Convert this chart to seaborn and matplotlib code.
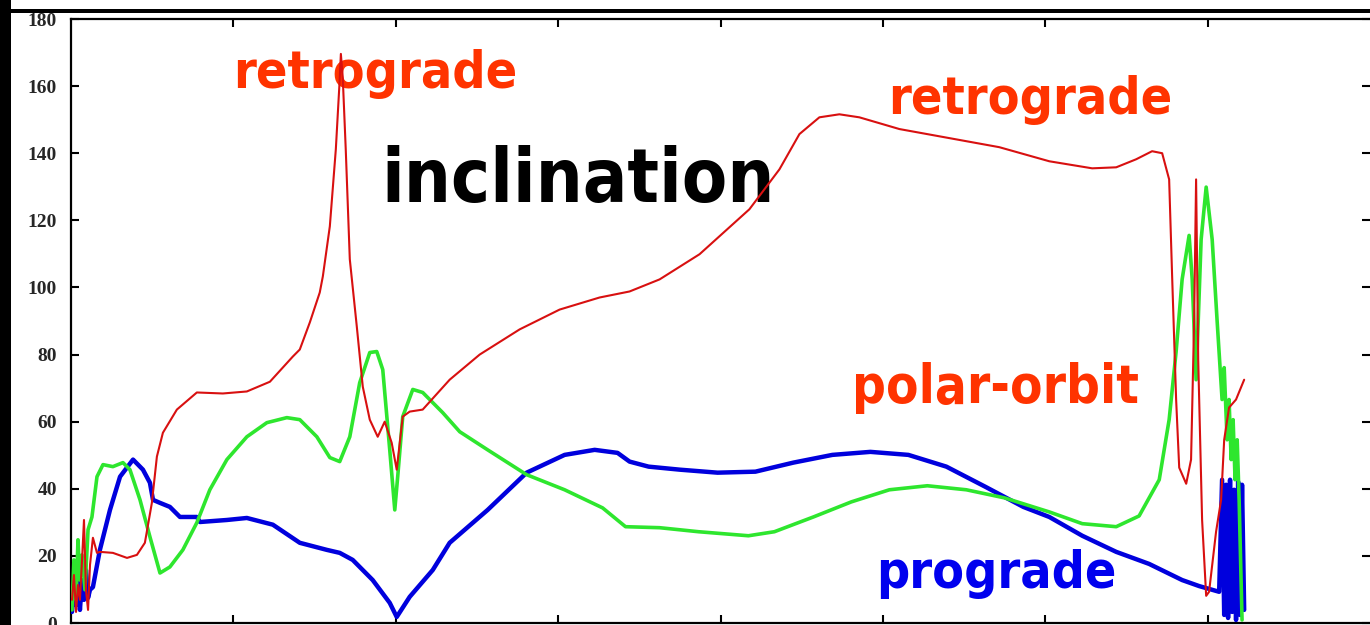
import numpy as np
import pandas as pd
import matplotlib
matplotlib.use("Agg")
import matplotlib.pyplot as plt
from matplotlib.patches import Rectangle
import seaborn as sns

# ---------------- data ----------------
retro_x = [0.006, 0.018, 0.031, 0.043, 0.055, 0.068, 0.080, 0.092, 0.105, 0.117, 0.135, 0.160, 0.178,
           0.258, 0.345, 0.406, 0.455, 0.498, 0.529, 0.566, 0.652, 0.775, 0.935, 1.083, 1.225, 1.366,
           1.409, 1.471, 1.532, 1.551, 1.594, 1.631, 1.655, 1.662, 1.674, 1.692, 1.717, 1.760, 1.797,
           1.840, 1.889, 1.932, 1.975, 2.006, 2.043, 2.086, 2.166, 2.332, 2.517, 2.763, 3.009, 3.255,
           3.440, 3.625, 3.871, 4.178, 4.363, 4.486, 4.609, 4.732, 4.855, 5.102, 5.717, 6.025, 6.289,
           6.437, 6.560, 6.658, 6.720, 6.763, 6.782, 6.806, 6.825, 6.868, 6.898, 6.917, 6.929, 6.942,
           6.966, 6.991, 7.009, 7.052, 7.083, 7.102, 7.132, 7.175, 7.225]
retro_y = [6.9, 14.3, 3.3, 11.3, 6.9, 18.8, 30.7, 9.9, 3.9, 17.3, 25.4, 20.9, 21.2,
           20.9, 19.4, 20.3, 23.9, 35.8, 49.6, 56.7, 63.6, 68.7, 68.4, 69.0, 71.9, 79.4,
           81.5, 89.6, 98.5, 103.3, 118.2, 141.2, 162.1, 169.6, 162.1, 141.2, 108.4, 88.4, 70.4,
           60.6, 55.5, 60.0, 53.7, 45.7, 61.5, 63.0, 63.6, 72.5, 80.0, 87.5, 93.4, 97.0,
           98.8, 102.4, 109.9, 123.3, 135.2, 145.7, 150.7, 151.6, 150.7, 147.2, 141.8, 137.6, 135.5,
           135.8, 138.2, 140.6, 140.0, 132.2, 102.4, 66.6, 46.3, 41.5, 48.7, 90.4, 132.2, 78.5,
           30.7, 8.1, 9.3, 27.2, 36.7, 54.6, 64.2, 66.6, 72.5]

polar_x = [0.006, 0.018, 0.031, 0.043, 0.055, 0.068, 0.086, 0.105, 0.129, 0.160, 0.197, 0.258, 0.320,
           0.363, 0.425, 0.486, 0.548, 0.609, 0.689, 0.775, 0.855, 0.960, 1.083, 1.206, 1.329, 1.409,
           1.514, 1.594, 1.655, 1.717, 1.778, 1.840, 1.883, 1.920, 1.963, 1.994, 2.012, 2.043, 2.105,
           2.166, 2.289, 2.394, 2.566, 2.806, 3.040, 3.274, 3.415, 3.625, 3.865, 4.172, 4.332, 4.572,
           4.806, 5.040, 5.274, 5.514, 5.748, 6.025, 6.228, 6.437, 6.578, 6.702, 6.763, 6.806, 6.843,
           6.886, 6.905, 6.929, 6.960, 6.991, 7.028, 7.058, 7.089, 7.102, 7.120, 7.132, 7.145, 7.157,
           7.169, 7.182, 7.194, 7.212]
polar_y = [3.9, 18.8, 6.9, 24.8, 12.8, 20.3, 9.9, 27.8, 31.6, 43.6, 47.2, 46.6, 47.8,
           45.7, 36.7, 25.7, 14.9, 16.7, 21.8, 29.9, 39.7, 48.7, 55.5, 59.7, 61.2, 60.6,
           55.5, 49.3, 48.1, 55.5, 71.6, 80.6, 80.9, 75.5, 51.6, 33.7, 43.6, 61.5, 69.6,
           68.7, 62.7, 57.0, 51.6, 44.2, 39.7, 34.3, 28.7, 28.4, 27.2, 26.0, 27.2, 31.6,
           36.1, 39.7, 40.9, 39.7, 37.3, 33.1, 29.6, 28.7, 31.9, 42.7, 60.6, 80.9, 102.4,
           115.5, 102.4, 72.5, 114.3, 129.9, 114.3, 90.4, 66.6, 76.1, 54.6, 66.6, 48.7, 60.6,
           42.7, 54.6, 36.7, 0.9]

pro_x = [0.006, 0.018, 0.031, 0.043, 0.055, 0.068, 0.080, 0.092, 0.105, 0.117, 0.135, 0.178, 0.240,
         0.302, 0.382, 0.443, 0.486, 0.505, 0.548, 0.609, 0.671, 0.775, 0.794, 0.960, 1.083, 1.243,
         1.409, 1.575, 1.655, 1.735, 1.858, 1.963, 2.006, 2.086, 2.228, 2.332, 2.566, 2.806, 3.040,
         3.225, 3.366, 3.440, 3.557, 3.748, 3.982, 4.215, 4.449, 4.689, 4.923, 5.157, 5.391, 5.631,
         5.865, 6.025, 6.228, 6.437, 6.640, 6.843, 6.948, 7.071, 7.089, 7.102, 7.114, 7.126, 7.138,
         7.151, 7.163, 7.175, 7.188, 7.200, 7.212, 7.225]
pro_y = [3.3, 9.9, 5.4, 14.3, 3.9, 12.8, 6.9, 15.8, 7.5, 9.9, 10.7, 21.8, 33.7,
         43.6, 48.7, 45.7, 41.8, 36.7, 35.8, 34.6, 31.6, 31.6, 30.1, 30.7, 31.3, 29.3,
         23.9, 21.8, 20.9, 18.8, 12.8, 6.0, 1.8, 7.8, 15.8, 23.9, 33.7, 44.8, 50.1,
         51.6, 50.7, 48.1, 46.6, 45.7, 44.8, 45.1, 47.8, 50.1, 51.0, 50.1, 46.6, 40.6,
         34.6, 31.6, 26.0, 21.2, 17.6, 12.8, 11.0, 9.3, 42.7, 2.4, 41.2, 1.5, 42.7,
         3.3, 39.7, 0.9, 42.1, 2.4, 41.2, 3.9]

y_ticks = [0, 20, 40, 60, 80, 100, 120, 140, 160, 180]
x_ticks = [1, 2, 3, 4, 5, 6, 7]

labels = ["retrograde", "retrograde", "inclination", "polar-orbit", "prograde"]

# ---------------- figure ----------------
sns.set_style("white")
plt.rcParams["font.family"] = ["DejaVu Sans"]

W, H = 1370, 625
fig = plt.figure(figsize=(W / 100, H / 100), dpi=100)
fig.patch.set_facecolor("white")

ax = fig.add_axes([71 / W, 2 / H, 1 - 71 / W, (623 - 19) / H])
ax.set_facecolor("white")

df_r = pd.DataFrame({"x": retro_x, "y": retro_y})
df_p = pd.DataFrame({"x": polar_x, "y": polar_y})
df_b = pd.DataFrame({"x": pro_x, "y": pro_y})

sns.lineplot(data=df_b, x="x", y="y", ax=ax, color="#0000dd", lw=3.2,
             estimator=None, sort=False, legend=False, zorder=3)
sns.lineplot(data=df_p, x="x", y="y", ax=ax, color="#2ee62e", lw=2.6,
             estimator=None, sort=False, legend=False, zorder=4)
sns.lineplot(data=df_r, x="x", y="y", ax=ax, color="#d81010", lw=1.5,
             estimator=None, sort=False, legend=False, zorder=5)

ax.set_xlim(0, 8)
ax.set_ylim(0, 180)
ax.set_xticks(x_ticks)
ax.set_xticklabels([])
ax.set_yticks(y_ticks)
ax.set_yticklabels([str(v) for v in y_ticks], fontfamily="Liberation Serif",
                   fontweight="bold", fontsize=14)
ax.set_xlabel("")
ax.set_ylabel("")
ax.tick_params(axis="both", direction="in", length=6, width=1.5, color="black",
               top=True, bottom=True, left=True, right=True, pad=10)
for side in ["left", "top", "bottom"]:
    ax.spines[side].set_visible(True)
    ax.spines[side].set_color("black")
    ax.spines[side].set_linewidth(1.6)
ax.spines["right"].set_visible(False)

# annotations
txt_kw = dict(transform=fig.transFigure, ha="left", va="baseline",
              fontweight="bold", fontstretch="condensed", zorder=2)
ax.text(233 / W, 1 - 88 / H, labels[0], color="#ff3300", fontsize=37.3, **txt_kw)
ax.text(888 / W, 1 - 114 / H, labels[1], color="#ff3300", fontsize=37.3, **txt_kw)
ax.text(381 / W, 1 - 202 / H, labels[2], color="black", fontsize=53, **txt_kw)
ax.text(852 / W, 1 - 403 / H, labels[3], color="#ff3300", fontsize=38, **txt_kw)
ax.text(876 / W, 1 - 588 / H, labels[4], color="#0000ee", fontsize=37.2, **txt_kw)

# frame decorations of the screenshot
fig.patches.append(Rectangle((0, 0), 11 / W, 1, transform=fig.transFigure,
                             facecolor="black", edgecolor="none", zorder=10))
fig.patches.append(Rectangle((0, 1 - 13 / H), 1, 4 / H, transform=fig.transFigure,
                             facecolor="black", edgecolor="none", zorder=10))

fig.savefig("out.png", dpi=100, facecolor="white")
